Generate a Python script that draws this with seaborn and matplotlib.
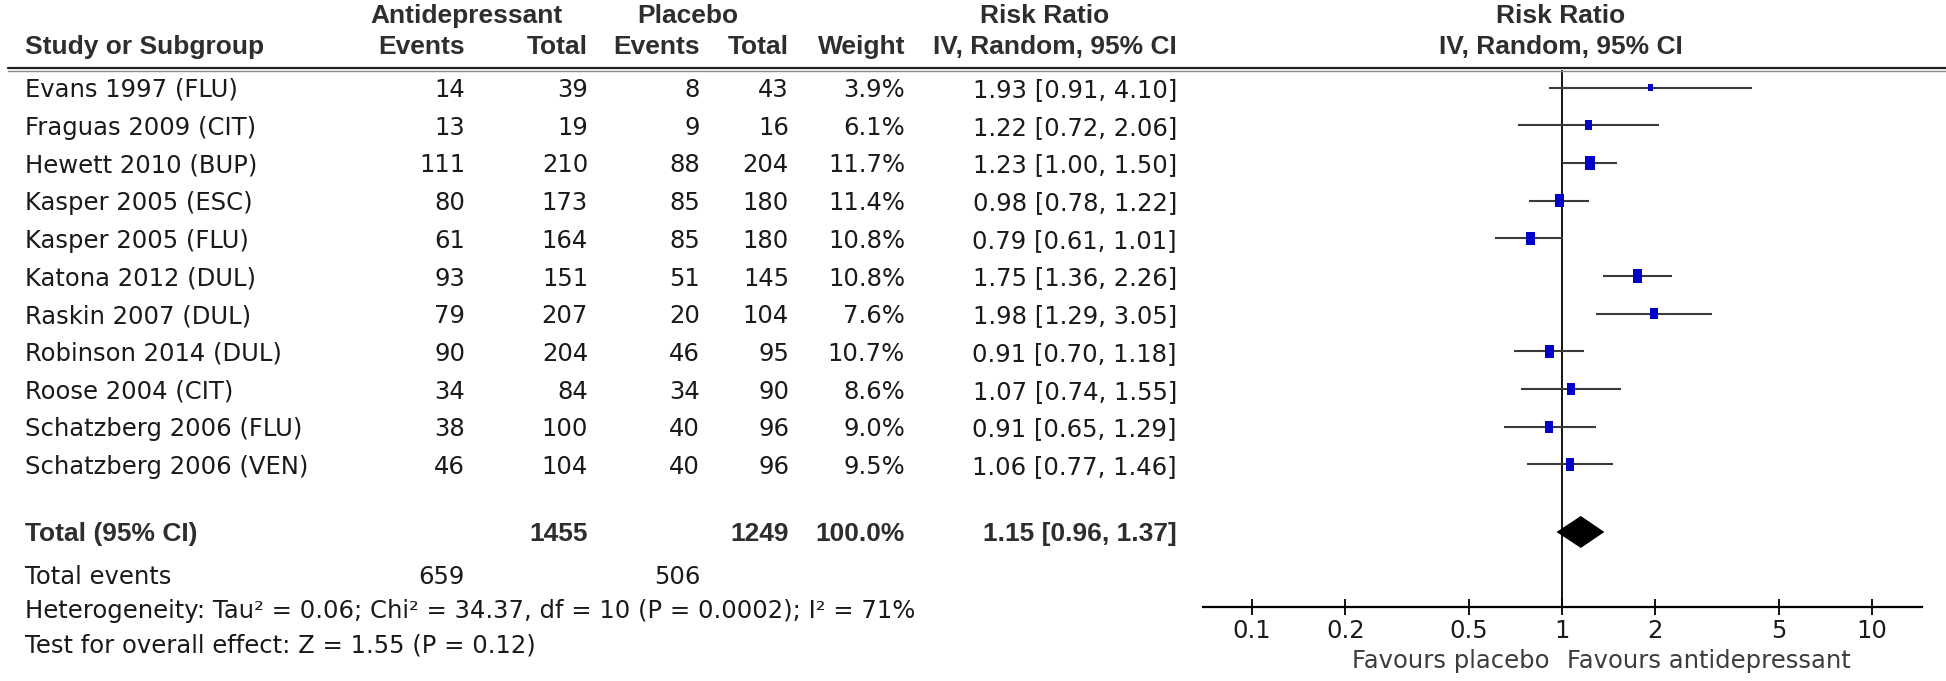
import numpy as np
import pandas as pd
import matplotlib
matplotlib.use("Agg")
import matplotlib.pyplot as plt
import seaborn as sns
from matplotlib.lines import Line2D
from matplotlib.path import Path

# ---------------- data ----------------
studies = ["Evans 1997 (FLU)", "Fraguas 2009 (CIT)", "Hewett 2010 (BUP)", "Kasper 2005 (ESC)",
           "Kasper 2005 (FLU)", "Katona 2012 (DUL)", "Raskin 2007 (DUL)", "Robinson 2014 (DUL)",
           "Roose 2004 (CIT)", "Schatzberg 2006 (FLU)", "Schatzberg 2006 (VEN)"]
ad_events = [14, 13, 111, 80, 61, 93, 79, 90, 34, 38, 46]
ad_total = [39, 19, 210, 173, 164, 151, 207, 204, 84, 100, 104]
pl_events = [8, 9, 88, 85, 85, 51, 20, 46, 34, 40, 40]
pl_total = [43, 16, 204, 180, 180, 145, 104, 95, 90, 96, 96]
weights = [3.9, 6.1, 11.7, 11.4, 10.8, 10.8, 7.6, 10.7, 8.6, 9.0, 9.5]
rr = [1.93, 1.22, 1.23, 0.98, 0.79, 1.75, 1.98, 0.91, 1.07, 0.91, 1.06]
ci_lo = [0.91, 0.72, 1.00, 0.78, 0.61, 1.36, 1.29, 0.70, 0.74, 0.65, 0.77]
ci_hi = [4.10, 2.06, 1.50, 1.22, 1.01, 2.26, 3.05, 1.18, 1.55, 1.29, 1.46]

total_ad = 1455
total_pl = 1249
total_weight = 100.0
pooled_rr = 1.15
pooled_lo = 0.96
pooled_hi = 1.37
events_ad_sum = 659
events_pl_sum = 506
heterogeneity = "Heterogeneity: Tau\u00b2 = 0.06; Chi\u00b2 = 34.37, df = 10 (P = 0.0002); I\u00b2 = 71%"
overall_test = "Test for overall effect: Z = 1.55 (P = 0.12)"

xticks = [0.1, 0.2, 0.5, 1, 2, 5, 10]
xtick_labels = ["0.1", "0.2", "0.5", "1", "2", "5", "10"]
favours_left = "Favours placebo"
favours_right = "Favours antidepressant"

# ---------------- layout ----------------
W, H = 1946, 681
sns.set_style("white")
plt.rcParams["font.family"] = ["DejaVu Sans"]
FS = 17.5
BFS = 19.0
TXT = "#1a1a1a"
HDR = "#2e2e2e"

fig = plt.figure(figsize=(W / 100, H / 100), dpi=100)


def fx(px):
    return px / W


def fy(py):
    return 1 - py / H


def txt(px, py, s, ha="left", bold=False, color=None, size=None):
    if bold:
        fig.text(fx(px), fy(py), s, ha=ha, va="baseline", family="Liberation Sans",
                 weight="bold", fontsize=size or BFS, color=color or HDR)
    else:
        fig.text(fx(px), fy(py), s, ha=ha, va="baseline", fontsize=size or FS,
                 color=color or TXT)


# column right edges (px)
C_AE, C_AT, C_PE, C_PT, C_W, C_CI = 465, 588, 700, 789, 905, 1177
X_NAME = 25

# headers
txt(466, 23, "Antidepressant", ha="center", bold=True)
txt(688, 23, "Placebo", ha="center", bold=True)
txt(1045, 23, "Risk Ratio", ha="center", bold=True)
txt(1561, 23, "Risk Ratio", ha="center", bold=True)
txt(X_NAME, 54, "Study or Subgroup", bold=True)
txt(C_AE, 54, "Events", ha="right", bold=True)
txt(C_AT, 54, "Total", ha="right", bold=True)
txt(C_PE, 54, "Events", ha="right", bold=True)
txt(C_PT, 54, "Total", ha="right", bold=True)
txt(C_W, 54, "Weight", ha="right", bold=True)
txt(C_CI, 54, "IV, Random, 95% CI", ha="right", bold=True)
txt(1561, 54, "IV, Random, 95% CI", ha="center", bold=True)

# double rule
fig.add_artist(Line2D([fx(8), 1.0], [fy(67.5)] * 2, color="#1e1e1e", lw=1.6))
fig.add_artist(Line2D([fx(8), 1.0], [fy(70.5)] * 2, color="#8a8a8a", lw=1.0))

ROW0, STEP = 87.5, 37.7
rows = np.arange(len(studies))
for i in rows:
    base = ROW0 + STEP * i + 9.5
    txt(X_NAME, base, studies[i])
    txt(C_AE, base, str(ad_events[i]), ha="right")
    txt(C_AT, base, str(ad_total[i]), ha="right")
    txt(C_PE, base, str(pl_events[i]), ha="right")
    txt(C_PT, base, str(pl_total[i]), ha="right")
    txt(C_W, base, f"{weights[i]:.1f}%", ha="right")
    txt(C_CI, base, f"{rr[i]:.2f} [{ci_lo[i]:.2f}, {ci_hi[i]:.2f}]", ha="right")

total_row = 11.79
tb = ROW0 + STEP * total_row + 9.5
txt(X_NAME, tb, "Total (95% CI)", bold=True)
txt(C_AT, tb, str(total_ad), ha="right", bold=True)
txt(C_PT, tb, str(total_pl), ha="right", bold=True)
txt(C_W, tb, f"{total_weight:.1f}%", ha="right", bold=True)
txt(C_CI, tb, f"{pooled_rr:.2f} [{pooled_lo:.2f}, {pooled_hi:.2f}]", ha="right", bold=True)

txt(X_NAME, 584, "Total events")
txt(C_AE, 584, str(events_ad_sum), ha="right")
txt(C_PE, 584, str(events_pl_sum), ha="right")
txt(X_NAME, 618, heterogeneity)
txt(X_NAME, 653, overall_test)

# ---------------- forest axes ----------------
AX_L, AX_R, AX_T, AX_B = 1203, 1922, 70, 607
ax = fig.add_axes([fx(AX_L), fy(AX_B), (AX_R - AX_L) / W, (AX_B - AX_T) / H])
ax.patch.set_alpha(0)
ax.set_xscale("log")
px_per_dec = 310.0
ax.set_xlim(10 ** ((AX_L - 1562) / px_per_dec), 10 ** ((AX_R - 1562) / px_per_dec))
ax.set_ylim((AX_B - ROW0) / STEP, (AX_T - ROW0) / STEP)

df = pd.DataFrame({"study": studies, "rr": rr, "lo": ci_lo, "hi": ci_hi,
                   "weight": weights, "row": rows})

ax.hlines(df["row"], df["lo"], df["hi"], color="#3a3a3a", lw=1.5, zorder=2)
rect = Path([(-0.34, -0.5), (0.34, -0.5), (0.34, 0.5), (-0.34, 0.5), (-0.34, -0.5)],
            [Path.MOVETO, Path.LINETO, Path.LINETO, Path.LINETO, Path.CLOSEPOLY])
k = 8.3
sns.scatterplot(data=df, x="rr", y="row", size="weight",
                sizes=(k * min(weights), k * max(weights)),
                size_norm=(min(weights), max(weights)),
                marker=rect, color="#0000c8", edgecolor="none", linewidth=0,
                legend=False, ax=ax, zorder=3)

dh = 16 / STEP
ax.fill([pooled_lo, pooled_rr, pooled_hi, pooled_rr],
        [total_row, total_row - dh, total_row, total_row + dh],
        color="black", lw=0, zorder=3)

ax.axvline(1, color="black", lw=1.3, zorder=1)

for side in ["top", "right", "left"]:
    ax.spines[side].set_visible(False)
ax.spines["bottom"].set_color("black")
ax.spines["bottom"].set_linewidth(1.6)
ax.set_yticks([])
ax.set_xticks(xticks)
ax.set_xticklabels(xtick_labels)
ax.xaxis.set_minor_locator(matplotlib.ticker.NullLocator())
ax.tick_params(axis="x", direction="inout", length=11, width=1.3, color="black",
               pad=3, labelsize=FS, labelcolor=TXT, bottom=True)
ax.set_xlabel("")
ax.set_ylabel("")

txt(1549, 668, favours_left, ha="right", color="#3c3c3c")
txt(1567, 668, favours_right, ha="left", color="#3c3c3c")

fig.savefig("out.png", dpi=100)
